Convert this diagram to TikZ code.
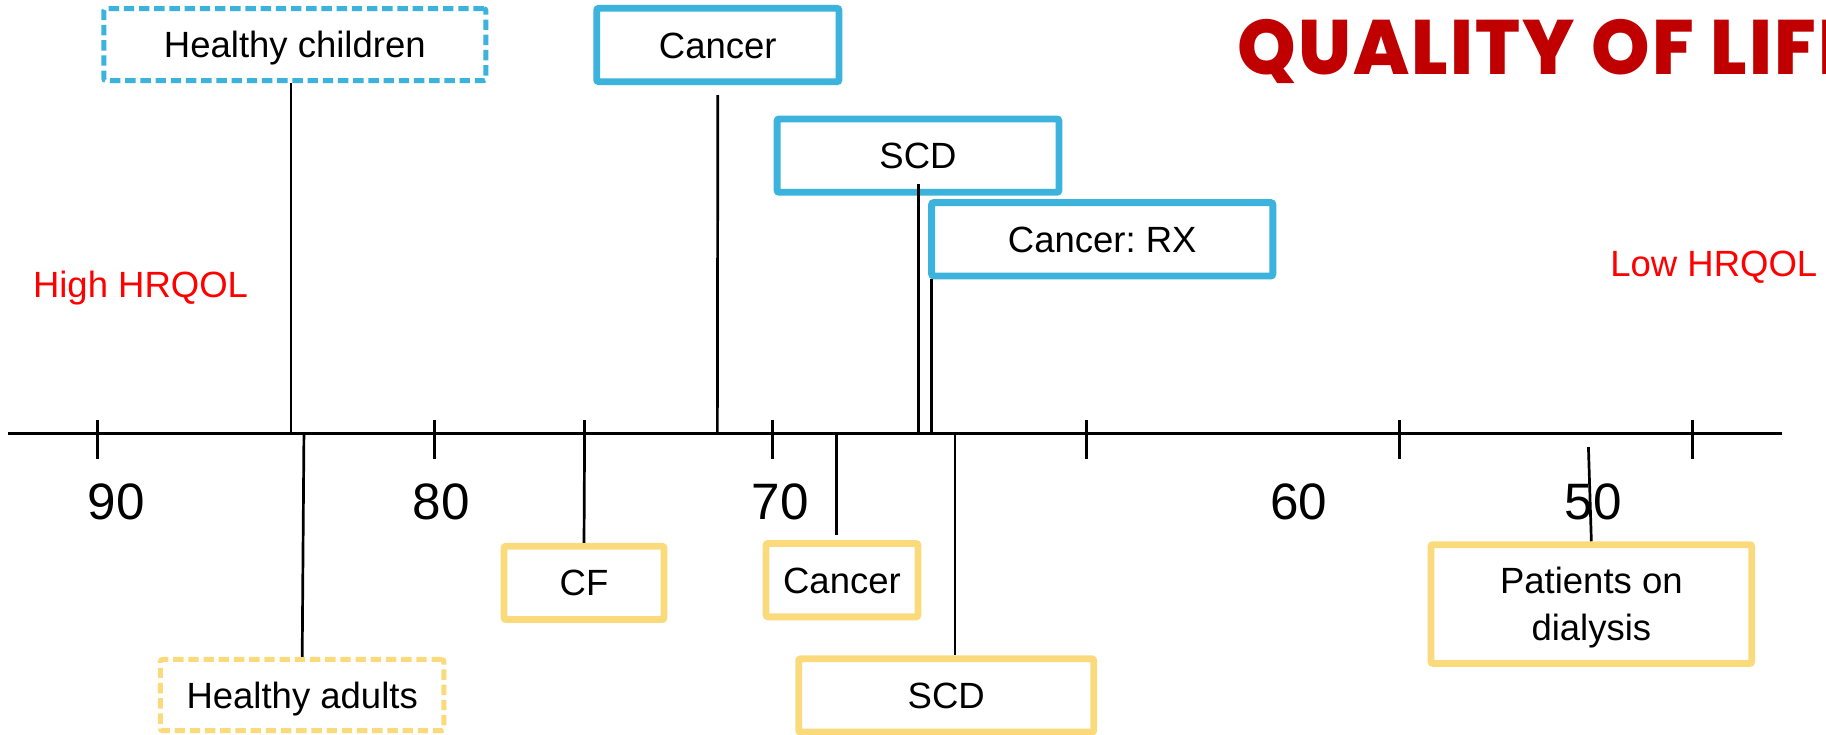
\documentclass[tikz,border=0pt]{standalone}
\usepackage{fontspec}
\usepackage{graphicx}
\setmainfont{Liberation Sans}
\newfontfamily\titlefont{Poppins ExtraBold}[LetterSpace=3]
\usetikzlibrary{positioning}
\frenchspacing

\begin{document}
\begin{tikzpicture}
    \newlength\px
    \newlength\boxlw
    \newlength\dashlw
    \setlength\px{0.58225pt}
    \setlength\boxlw{3.4pt}
    \setlength\dashlw{2.5pt}
    \definecolor{qol-blue}{RGB}{59,179,220}
    \definecolor{qol-yellow}{RGB}{250,218,122}
    \definecolor{qol-darkred}{RGB}{192,0,0}
    \definecolor{qol-red}{RGB}{255,0,0}
    \newcommand*\boxfont{\fontsize{18.25}{23.3}\selectfont}
    \tikzset{
        x=\px, y=-\px,
        stem/.style={line width=1.35pt},
        dashedbox/.style={line width=\dashlw, dash pattern=on 5.2pt off 2.4pt},
        sidelabel/.style={anchor=base west, inner sep=0, text=qol-red, font=\boxfont}
    }
    \useasboundingbox (0,0) rectangle (1568,631);

    % TITLE AND SIDE LABELS
    \node [anchor=base west, inner sep=0, text=qol-darkred] (title) at (1062,64.4)
        {\resizebox{311pt}{27.6pt}{\titlefont QUALITY OF LIFE}};
    \node [sidelabel] (high) at (28,255.6) {High HRQOL};
    \node [sidelabel] (low) at (1382.5,237.6) {Low HRQOL};

    % AXIS
    \coordinate (axis-west) at (7,372);
    \coordinate (axis-east) at (1530,372);
    \draw [line width=1.7pt] (axis-west) -- (axis-east);
    \foreach \tx in {84, 373, 502, 663, 933, 1202, 1453} {
        \coordinate (tick-\tx) at (\tx,372);
        \draw [line width=1.5pt] ([yshift=11\px]tick-\tx) -- ([yshift=-22\px]tick-\tx);
    }
    \foreach \val/\lx in {90/100, 80/379, 70/670, 60/1115, 50/1368}
        \node [inner sep=0, font=\fontsize{25.6}{26}\selectfont] (label\val) at (\lx,431) {\val};

    % CHILDREN (ABOVE THE AXIS)
    \begin{scope}[every node/.append style={draw=qol-blue, line width=\boxlw, rounded corners=1pt,
            minimum height=63\px, text height=13.1pt, text depth=0pt, font=\boxfont}]
        \node [dashedbox, minimum width=328\px, minimum height=61.7\px] (hchild) at (253.2,38.35) {Healthy children};
        \node [minimum width=208\px] (cancertop) at (616.4,38.65) {Cancer};
        \node [minimum width=242\px] (scdtop) at (788.3,133.65) {SCD};
        \node [minimum width=293\px] (cancerrx) at (946.5,205.5) {Cancer: RX};
    \end{scope}

    % ADULTS (BELOW THE AXIS)
    \begin{scope}[every node/.append style={draw=qol-yellow, line width=\boxlw, rounded corners=1pt,
            minimum height=63\px, text height=13.1pt, text depth=0pt, font=\boxfont}]
        \node [dashedbox, minimum width=243.4\px, minimum height=61.1\px] (hadult) at (259.5,596.85) {Healthy adults};
        \node [minimum width=137.4\px] (cf) at (501.5,500.5) {CF};
        \node [minimum width=130.4\px] (cancerlow) at (723,498.2) {Cancer};
        \node [minimum width=253.4\px] (scdlow) at (812.5,597.2) {SCD};
        \node [minimum width=275.4\px, minimum height=102\px, align=center,
            text height=36.4pt] (dialysis) at (1366.5,518.7) {Patients on\\dialysis};
    \end{scope}

    % Stems from the children boxes down to the axis
    \foreach \name/\fx in {hchild/250, cancertop/616, scdtop/789, cancerrx/800,
                           hadult/261, cancerlow/718, scdlow/820}
        \coordinate (\name-foot) at (\fx,372);
    \draw [stem] (hchild.south -| hchild-foot) -- (hchild-foot);
    \draw [stem, shorten <=8.6\px] (cancertop.south) -- (cancertop-foot);
    \draw [stem, shorten <=-10\px] (scdtop.south -| scdtop-foot) -- (scdtop-foot);
    \draw [stem] (cancerrx.south -| cancerrx-foot) -- (cancerrx-foot);

    % Stems from the axis down to the adult boxes
    \coordinate (dialysis-top) at (1364,384);
    \draw [stem] (hadult-foot) -- (hadult.north);
    \draw [stem] (tick-502) -- (cf.north);
    \draw [stem, shorten >=4.2\px] (cancerlow-foot) -- (cancerlow-foot |- cancerlow.north);
    \draw [stem] (scdlow-foot) -- (scdlow-foot |- scdlow.north);
    \draw [stem] (dialysis-top) -- (dialysis.north);
\end{tikzpicture}
\end{document}
